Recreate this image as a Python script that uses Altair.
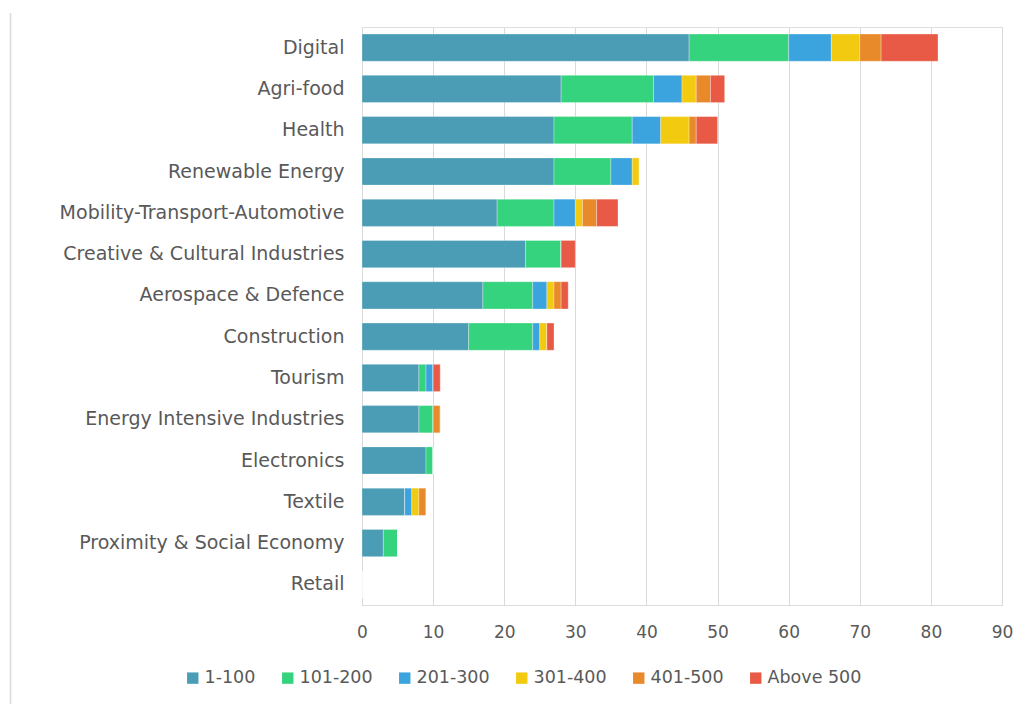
import altair as alt
import pandas as pd

sectors = ["Digital", "Agri-food", "Health", "Renewable Energy",
           "Mobility-Transport-Automotive", "Creative & Cultural Industries",
           "Aerospace & Defence", "Construction", "Tourism",
           "Energy Intensive Industries", "Electronics", "Textile",
           "Proximity & Social Economy", "Retail"]
bands = ["1-100", "101-200", "201-300", "301-400", "401-500", "Above 500"]
colors = ["#4A9DB5", "#36D37E", "#3BA3DE", "#F2CA0F", "#E8892A", "#E85A45"]

v_1_100 = [46, 28, 27, 27, 19, 23, 17, 15, 8, 8, 9, 6, 3, 0]
v_101_200 = [14, 13, 11, 8, 8, 5, 7, 9, 1, 2, 1, 0, 2, 0]
v_201_300 = [6, 4, 4, 3, 3, 0, 2, 1, 1, 0, 0, 1, 0, 0]
v_301_400 = [4, 2, 4, 1, 1, 0, 1, 1, 0, 0, 0, 1, 0, 0]
v_401_500 = [3, 2, 1, 0, 2, 0, 1, 0, 0, 1, 0, 1, 0, 0]
v_above_500 = [8, 2, 3, 0, 3, 2, 1, 1, 1, 0, 0, 0, 0, 0]

series = [v_1_100, v_101_200, v_201_300, v_301_400, v_401_500, v_above_500]
rows = []
for bi, (b, vals) in enumerate(zip(bands, series)):
    for s, v in zip(sectors, vals):
        rows.append({"Sector": s, "Band": b, "Order": bi, "Value": v})
df = pd.DataFrame(rows)

font = "DejaVu Sans"
txt = "#595959"

bars = alt.Chart(df).mark_bar(stroke="white", strokeWidth=0.5, strokeOpacity=0.6).encode(
    y=alt.Y("Sector:N", sort=sectors, title=None,
            scale=alt.Scale(paddingInner=0.34, paddingOuter=0.17),
            axis=alt.Axis(labelFontSize=19, labelColor=txt, labelFont=font,
                          ticks=False, domain=True, domainColor="#D9D9D9",
                          labelPadding=18, labelLimit=400, grid=False)),
    x=alt.X("Value:Q", stack="zero", title=None,
            scale=alt.Scale(domain=[0, 90], nice=False),
            axis=alt.Axis(values=list(range(0, 100, 10)), labelFontSize=17,
                          labelColor=txt, labelFont=font, ticks=False,
                          domain=False, grid=True, gridColor="#D9D9D9",
                          labelPadding=19, labelFlush=False)),
    color=alt.Color("Band:N", sort=bands,
                    scale=alt.Scale(domain=bands, range=colors),
                    legend=alt.Legend(title=None, orient="none", direction="horizontal",
                                      legendX=-178, legendY=642,
                                      labelFontSize=17.5, labelColor=txt, labelFont=font,
                                      symbolType="square", symbolSize=130,
                                      symbolStrokeWidth=0, columnPadding=23,
                                      labelOffset=3)),
    order=alt.Order("Order:Q", sort="ascending"),
)

border = alt.Chart(pd.DataFrame({"k": [0]})).mark_rule(
    color="#D9D9D9", strokeWidth=1.5, clip=False
).encode(x=alt.value(-351.5), y=alt.value(-14), y2=alt.value(704 - 27))

chart = alt.layer(bars, border).properties(
    width=640, height=578,
    autosize="none",
    padding={"left": 362, "top": 27, "right": 24, "bottom": 99},
).configure_view(strokeWidth=0, stroke="transparent").configure(background="white")

chart.save("out.html", embed_options={"renderer": "svg", "actions": False})
